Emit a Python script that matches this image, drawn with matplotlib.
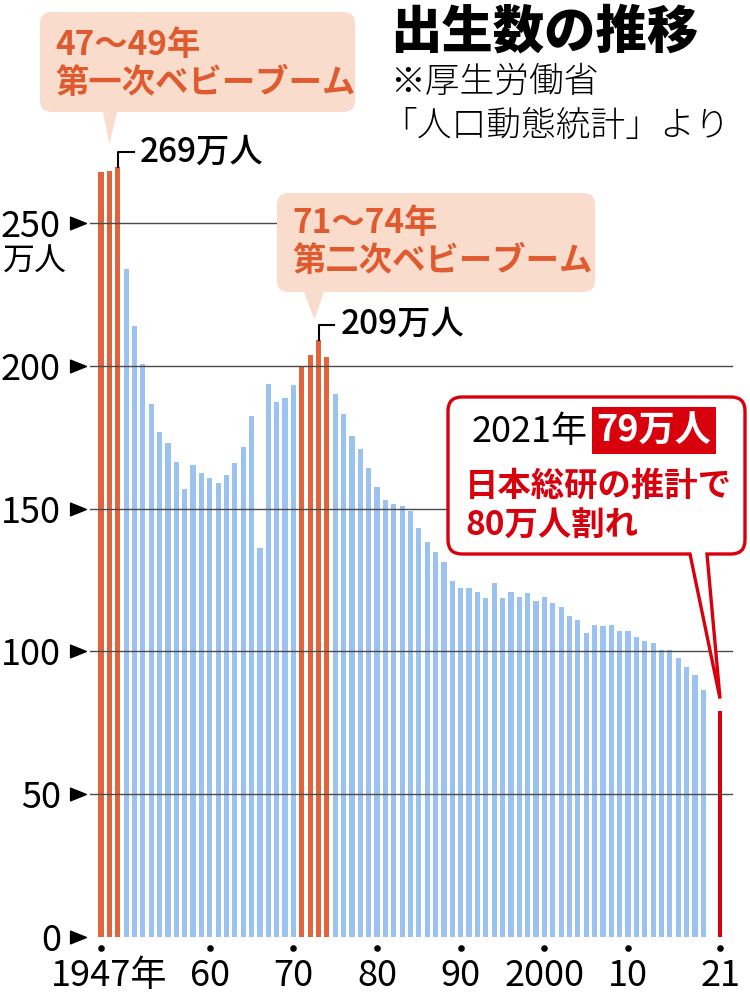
import matplotlib
matplotlib.use("Agg")
import matplotlib.pyplot as plt
from matplotlib.path import Path
from matplotlib.patches import PathPatch, Rectangle
from matplotlib.transforms import Affine2D, ScaledTranslation

# births per year in 万人 (厚生労働省「人口動態統計」), 1947-2019
years = list(range(1947, 2020))
births = [267.9, 268.2, 269.7, 233.8, 213.8, 200.5, 186.8, 176.9, 173.1, 166.5,
          156.7, 165.3, 162.6, 160.6, 158.9, 161.9, 166.0, 171.7, 182.4, 136.1,
          193.6, 187.2, 188.9, 193.4, 200.1, 203.9, 209.2, 203.0, 190.1, 183.3,
          175.5, 170.9, 164.3, 157.7, 152.9, 151.5, 150.9, 149.0, 143.2, 138.3,
          134.7, 131.4, 124.7, 122.2, 122.3, 120.9, 118.8, 123.8, 118.7, 120.7,
          119.2, 120.3, 117.8, 119.1, 117.1, 115.4, 112.4, 111.1, 106.3, 109.3,
          109.0, 109.1, 107.0, 107.1, 105.1, 103.7, 103.0, 100.4, 100.6, 97.7,
          94.6, 91.8, 86.5]
boom1 = [1947, 1948, 1949]
boom2 = [1971, 1972, 1973, 1974]
est_year = 2021
est_births = 79

yticks = [0, 50, 100, 150, 200, 250]
xticks = [1947, 1960, 1970, 1980, 1990, 2000, 2010, 2021]
xlabels = ['1947年', '60', '70', '80', '90', '2000', '10', '21']

BLUE = '#9cc2f0'
ORANGE = '#e2643c'
RED = '#d9000d'
PEACH = '#f9dccb'
ORANGE_TXT = '#e05a30'

plt.rcParams['font.family'] = ['Noto Sans CJK JP', 'DejaVu Sans']

W, H = 750, 996
fig = plt.figure(figsize=(W / 100, H / 100), dpi=100)
ax = fig.add_axes([90 / W, (H - 937) / H, 645 / W, 927 / H])
ax.set_xlim(1945.68, 2022.79)
ax.set_ylim(0, 324.6)
ax.set_frame_on(False)

# pixel coords measured from the top-left corner
pxt = Affine2D().scale(1 / 100, -1 / 100).translate(0, H / 100) + fig.dpi_scale_trans


def to_px(x, y):
    dx, dy = ax.transData.transform((x, y))
    return dx, H - dy


def ptxt(x, y, s, **kw):
    kw.setdefault('va', 'center')
    kw.setdefault('ha', 'left')
    return fig.text(x, y, s, transform=pxt, **kw)


colors = [ORANGE if (y in boom1 or y in boom2) else BLUE for y in years]
ax.bar(years, births, width=0.62, color=colors, zorder=2)
ax.bar([est_year], [est_births], width=0.5, color=RED, zorder=2)

# grid lines (the 250 line stops where the 2nd boom label begins)
for v in yticks[1:]:
    right = 0.29 if v == 250 else 0.996
    ax.axhline(v, 0, right, color='#4a4a4a', lw=1.0, zorder=3)

# y axis
ax.set_yticks(yticks)
ax.set_yticklabels([str(v) for v in yticks], fontsize=26)
ax.tick_params(axis='y', length=0, pad=21)
tri = Path([(-1, -0.8), (1, 0), (-1, 0.8), (-1, -0.8)],
           [Path.MOVETO, Path.LINETO, Path.LINETO, Path.CLOSEPOLY])
ax.scatter([-12 / 645] * len(yticks), yticks, marker=tri, s=130, color='black',
           transform=ax.get_yaxis_transform(), clip_on=False, zorder=4)
ptxt(3, 262, '万人', fontsize=23)

# x axis
ax.set_xticks(xticks)
ax.set_xticklabels(xlabels, fontsize=26)
ax.tick_params(axis='x', length=0, pad=15)
first = ax.get_xticklabels()[0]
first.set_ha('left')
first.set_transform(first.get_transform() + ScaledTranslation(-50 / 100, 0, fig.dpi_scale_trans))
ax.scatter(xticks, [-11 / 927] * len(xticks), s=14, color='black',
           transform=ax.get_xaxis_transform(), clip_on=False, zorder=4)

# peak brackets
for yrs in (boom1, boom2):
    vals = [births[years.index(y)] for y in yrs]
    peak = max(vals)
    py = yrs[vals.index(peak)]
    ax.plot([py, py, py + 1.9], [peak, peak + 5.2, peak + 5.2], color='black', lw=1.5,
            clip_on=False, zorder=4)
    ax.text(py + 2.6, peak + 5.2, f"{int(peak)}万人", fontsize=24, va='center', ha='left',
            weight='medium')


def callout(x0, y0, x1, y1, r, b0, b1, tip, **kw):
    tx, ty = tip
    M, L, C, Z = Path.MOVETO, Path.LINETO, Path.CURVE3, Path.CLOSEPOLY
    verts = [(x0 + r, y0), (x1 - r, y0), (x1, y0), (x1, y0 + r), (x1, y1 - r), (x1, y1),
             (x1 - r, y1), (b1, y1), (tx, ty), (b0, y1), (x0 + r, y1), (x0, y1), (x0, y1 - r),
             (x0, y0 + r), (x0, y0), (x0 + r, y0), (x0 + r, y0)]
    codes = [M, L, C, C, L, C, C, L, L, L, L, C, C, L, C, C, Z]
    p = PathPatch(Path(verts, codes), transform=pxt, **kw)
    fig.add_artist(p)
    return p


fig.canvas.draw()

tip1 = to_px(1948, max(births[:3]) + 8)
callout(40, 12, 355, 112, 12, 103, 117, tip1, facecolor=PEACH, edgecolor='none', zorder=5)
ptxt(55, 45, f"{boom1[0] % 100}〜{boom1[-1] % 100}年", fontsize=24, color=ORANGE_TXT, weight='bold', zorder=6)
ptxt(55, 83, '第一次ベビーブーム', fontsize=24, color=ORANGE_TXT, weight='bold', zorder=6)

tip2 = to_px(1972.5, 209.2 + 7)
callout(277, 193, 595, 292, 12, 304, 324, tip2, facecolor=PEACH, edgecolor='none', zorder=5)
ptxt(292, 223, f"{boom2[0] % 100}〜{boom2[-1] % 100}年", fontsize=24, color=ORANGE_TXT, weight='bold', zorder=6)
ptxt(292, 262, '第二次ベビーブーム', fontsize=24, color=ORANGE_TXT, weight='bold', zorder=6)

tip3 = to_px(est_year, est_births + 4.5)
callout(448, 397, 745, 554, 14, 690, 707, tip3, facecolor='white', edgecolor=RED, lw=2.4,
        joinstyle='miter', zorder=5)
ptxt(472, 432, f"{est_year}年", fontsize=26, color='black', zorder=6)
fig.add_artist(Rectangle((592, 407), 124, 47, transform=pxt, facecolor=RED, edgecolor='none', zorder=6))
ptxt(654, 431, f"{est_births}万人", fontsize=26, color='white', weight='bold', ha='center', zorder=7)
ptxt(465, 486, '日本総研の推計で', fontsize=24, color=RED, weight='bold', zorder=6)
ptxt(465, 526, '80万人割れ', fontsize=24, color=RED, weight='bold', zorder=6)

# title
ptxt(390, 32, '出生数の推移', fontsize=37, weight='heavy', color='black')
ptxt(390, 82, '※厚生労働省', fontsize=25, weight='light', color='black')
ptxt(382, 126, '「人口動態統計」より', fontsize=25, weight='light', color='black')

fig.savefig('out.png', dpi=100)
